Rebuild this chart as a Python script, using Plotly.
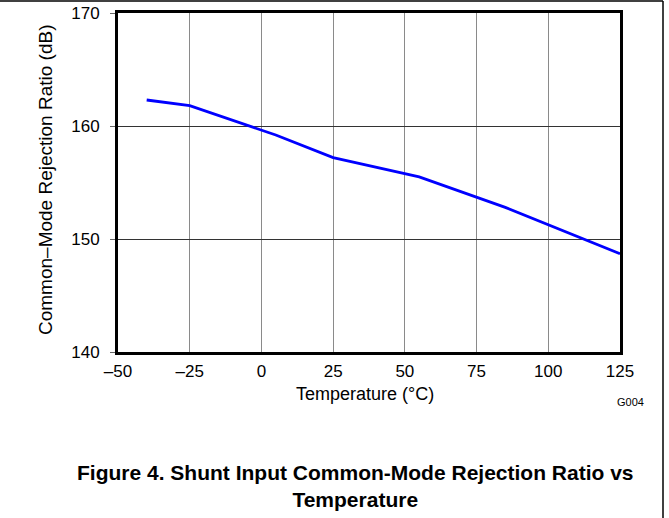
import plotly.graph_objects as go

temps = [-40, -25, 5, 25, 55, 85, 125]
cmrr = [162.3, 161.8, 159.2, 157.2, 155.5, 152.8, 148.7]

x_ticks = [-50, -25, 0, 25, 50, 75, 100, 125]
x_tick_labels = ["\u201350", "\u201325", "0", "25", "50", "75", "100", "125"]
y_ticks = [140, 150, 160, 170]
y_tick_labels = ["140", "150", "160", "170"]

FONT = "Liberation Sans, Arial, sans-serif"
W, H = 669, 518
L, R, T, B = 118, 620, 13, 352  # plot area in pixels


def px(X):
    return (X - L) / (R - L)


def py(Y):
    return (B - Y) / (B - T)


fig = go.Figure()
fig.add_trace(go.Scatter(x=temps, y=cmrr, mode="lines",
                         line=dict(color="#0000FF", width=2.8),
                         showlegend=False, hoverinfo="skip"))

fig.update_layout(
    width=W, height=H,
    margin=dict(l=L, r=W - R, t=T, b=H - B, pad=0),
    paper_bgcolor="white", plot_bgcolor="white",
    font=dict(family=FONT, color="black"),
    xaxis=dict(range=[-50, 125], tickvals=x_ticks, ticktext=x_tick_labels,
               showgrid=True, gridcolor="#8a8a8a", gridwidth=1,
               showline=True, linecolor="black", linewidth=2.8, mirror=True,
               ticks="", ticklabelstandoff=2, tickfont=dict(size=17, family=FONT),
               zeroline=False, automargin=False),
    yaxis=dict(range=[140, 170], tickvals=y_ticks, ticktext=y_tick_labels,
               showgrid=True, gridcolor="#333333", gridwidth=1,
               showline=True, linecolor="black", linewidth=2.8, mirror=True,
               ticks="outside", ticklen=5, tickcolor="#666666", tickwidth=1,
               ticklabelstandoff=7, tickfont=dict(size=17, family=FONT),
               zeroline=False, automargin=False),
)

# outer frame lines (top and right)
fig.add_shape(type="line", xref="paper", yref="paper",
              x0=px(0), x1=px(663), y0=py(1), y1=py(1),
              line=dict(color="black", width=1.5))
fig.add_shape(type="line", xref="paper", yref="paper",
              x0=px(663), x1=px(663), y0=py(1), y1=py(H),
              line=dict(color="black", width=1.5))

fig.add_annotation(text="Temperature (°C)", xref="paper", yref="paper",
                   x=px(365), y=py(394), showarrow=False,
                   font=dict(size=18, family=FONT), xanchor="center", yanchor="middle")
fig.add_annotation(text="Common\u2013Mode Rejection Ratio (dB)", xref="paper", yref="paper",
                   x=px(46), y=py(180), showarrow=False, textangle=-90,
                   font=dict(size=19, family=FONT), xanchor="center", yanchor="middle")
fig.add_annotation(text="G004", xref="paper", yref="paper",
                   x=px(630), y=py(402), showarrow=False,
                   font=dict(size=11, family=FONT), xanchor="center", yanchor="middle")
fig.add_annotation(text="<b>Figure 4. Shunt Input Common-Mode Rejection Ratio vs<br>Temperature</b>",
                   xref="paper", yref="paper",
                   x=px(355.5), y=py(486), showarrow=False,
                   font=dict(size=21, family=FONT), xanchor="center", yanchor="middle",
                   align="center")

fig.write_html("out.html", config={"displayModeBar": False},
               post_script="document.body.style.margin='0px';")
